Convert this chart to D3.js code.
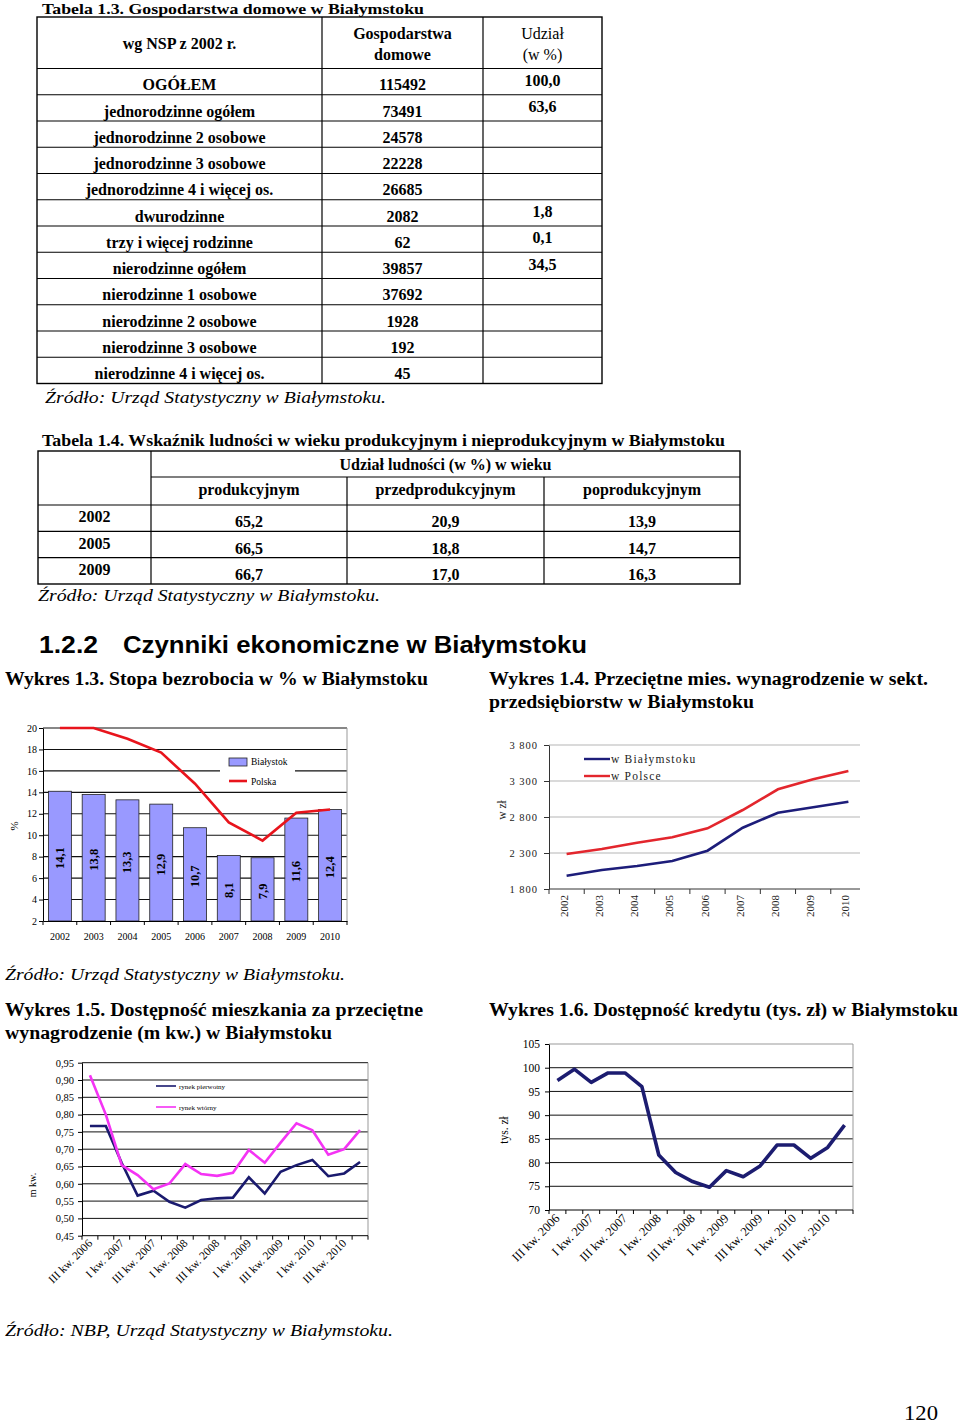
<!DOCTYPE html>
<html><head><meta charset="utf-8">
<script src="https://cdn.jsdelivr.net/npm/d3@7"></script>
<style>body{margin:0;background:#fff}svg{display:block}</style>
</head><body>
<svg id="page" width="960" height="1425"></svg>
<script>
// ---------------- DATA ----------------
const t13Labels = ["OGÓŁEM","jednorodzinne ogółem","jednorodzinne 2 osobowe","jednorodzinne 3 osobowe","jednorodzinne 4 i więcej os.","dwurodzinne","trzy i więcej rodzinne","nierodzinne ogółem","nierodzinne 1 osobowe","nierodzinne 2 osobowe","nierodzinne 3 osobowe","nierodzinne 4 i więcej os."];
const t13Households = [115492,73491,24578,22228,26685,2082,62,39857,37692,1928,192,45];
const t13Share = [100.0,63.6,null,null,null,1.8,0.1,34.5,null,null,null,null];

const t14Years = ["2002","2005","2009"];
const t14Groups = ["produkcyjnym","przedprodukcyjnym","poprodukcyjnym"];
const t14Prod = [65.2,66.5,66.7];
const t14Pre = [20.9,18.8,17.0];
const t14Post = [13.9,14.7,16.3];

const years = ["2002","2003","2004","2005","2006","2007","2008","2009","2010"];
const unempBialystok = [14.1,13.8,13.3,12.9,10.7,8.1,7.9,11.6,12.4];
const unempPolska = [20.0,20.0,19.0,17.7,14.8,11.2,9.5,12.1,12.4];
const unempTicks = [2,4,6,8,10,12,14,16,18,20];

const wageBialystok = [1985,2064,2119,2189,2332,2651,2860,2935,3013];
const wagePolska = [2286,2356,2443,2518,2643,2897,3185,3324,3439];
const wageTicks = [1800,2300,2800,3300,3800];

const quarters = ["III kw. 2006","IV kw. 2006","I kw. 2007","II kw. 2007","III kw. 2007","IV kw. 2007","I kw. 2008","II kw. 2008","III kw. 2008","IV kw. 2008","I kw. 2009","II kw. 2009","III kw. 2009","IV kw. 2009","I kw. 2010","II kw. 2010","III kw. 2010","IV kw. 2010"];
const flatPrimary = [0.767,0.767,0.660,0.566,0.580,0.548,0.531,0.553,0.558,0.560,0.619,0.572,0.635,0.654,0.669,0.622,0.630,0.663];
const flatSecondary = [0.914,0.800,0.654,0.625,0.584,0.601,0.657,0.628,0.623,0.632,0.698,0.661,0.719,0.775,0.755,0.684,0.700,0.755];
const flatTicks = [0.45,0.50,0.55,0.60,0.65,0.70,0.75,0.80,0.85,0.90,0.95];

const credit = [97.3,99.7,96.9,98.9,98.9,96.0,81.6,77.9,76.0,74.8,78.3,77.0,79.3,83.7,83.7,80.9,83.2,87.9];
const creditTicks = [70,75,80,85,90,95,100,105];

// ---------------- HELPERS ----------------
const SERIF = "'Liberation Serif','Times New Roman',serif";
const SANS = "'Liberation Sans',Arial,sans-serif";
const svg = d3.select("#page");
svg.append("rect").attr("width",960).attr("height",1425).attr("fill","#fff");
const comma1 = v => d3.format(".1f")(v).replace(".", ",");
const comma2 = v => d3.format(".2f")(v).replace(".", ",");

function T(g, x, y, s, o = {}) {
  const t = g.append("text").attr("x", x).attr("y", y).text(s)
    .attr("font-family", o.family || SERIF).attr("font-size", o.size || 16)
    .attr("font-weight", o.weight || "normal").attr("font-style", o.style || "normal")
    .attr("text-anchor", o.anchor || "start").attr("fill", o.fill || "#000");
  if (o.len) t.attr("textLength", o.len).attr("lengthAdjust", "spacingAndGlyphs");
  if (o.ls) t.attr("letter-spacing", o.ls);
  return t;
}
function L(g, x1, y1, x2, y2, c = "#000", w = 1) {
  return g.append("line").attr("x1", x1).attr("y1", y1).attr("x2", x2).attr("y2", y2)
    .attr("stroke", c).attr("stroke-width", w);
}

// ---------------- PAGE TEXT ----------------
T(svg, 42, 13.5, "Tabela 1.3. Gospodarstwa domowe w Białymstoku", {weight:"bold", size:15.5, len:382});
T(svg, 42, 446, "Tabela 1.4. Wskaźnik ludności w wieku produkcyjnym i nieprodukcyjnym w Białymstoku", {weight:"bold", size:16, len:683});
T(svg, 45, 403, "Źródło: Urząd Statystyczny w Białymstoku.", {style:"italic", size:17, len:341});
T(svg, 38, 601, "Źródło: Urząd Statystyczny w Białymstoku.", {style:"italic", size:17, len:342});
T(svg, 39, 653, "1.2.2", {family:SANS, weight:"bold", size:23, len:59});
T(svg, 123, 653, "Czynniki ekonomiczne w Białymstoku", {family:SANS, weight:"bold", size:23, len:464});
T(svg, 5, 685, "Wykres 1.3. Stopa bezrobocia w % w Białymstoku", {weight:"bold", size:18, len:423});
T(svg, 489, 685, "Wykres 1.4. Przeciętne mies. wynagrodzenie w sekt.", {weight:"bold", size:18, len:439});
T(svg, 489, 708, "przedsiębiorstw w Białymstoku", {weight:"bold", size:18, len:265});
T(svg, 5, 980, "Źródło: Urząd Statystyczny w Białymstoku.", {style:"italic", size:17, len:340});
T(svg, 5, 1016, "Wykres 1.5. Dostępność mieszkania za przeciętne", {weight:"bold", size:18, len:418});
T(svg, 5, 1039, "wynagrodzenie (m kw.) w Białymstoku", {weight:"bold", size:18, len:327});
T(svg, 489, 1016, "Wykres 1.6. Dostępność kredytu (tys. zł) w Białymstoku", {weight:"bold", size:18, len:469});
T(svg, 5, 1336, "Źródło: NBP, Urząd Statystyczny w Białymstoku.", {style:"italic", size:17, len:388});
T(svg, 904, 1420, "120", {size:22, len:34});

// ---------------- TABLE 1.3 ----------------
{
  const g = svg.append("g");
  const colX = [37, 322, 483, 602];
  const top = 17, headB = 68.5, bottom = 383.5;
  const ry = d3.scaleBand().domain(d3.range(t13Labels.length)).range([headB, bottom]);
  g.append("rect").attr("x", colX[0]).attr("y", top).attr("width", colX[3]-colX[0]).attr("height", bottom-top)
    .attr("fill","none").attr("stroke","#000").attr("stroke-width",1.4);
  [colX[1], colX[2]].forEach(x => L(g, x, top, x, bottom, "#000", 1.2));
  ry.domain().forEach(i => L(g, colX[0], ry(i), colX[3], ry(i), "#000", 1.2));
  const cx = [(colX[0]+colX[1])/2, (colX[1]+colX[2])/2, (colX[2]+colX[3])/2];
  T(g, cx[0], 49, "wg NSP z 2002 r.", {anchor:"middle", weight:"bold"});
  T(g, cx[1], 39, "Gospodarstwa", {anchor:"middle", weight:"bold"});
  T(g, cx[1], 60, "domowe", {anchor:"middle", weight:"bold"});
  T(g, cx[2], 39, "Udział", {anchor:"middle"});
  T(g, cx[2], 60, "(w %)", {anchor:"middle"});
  t13Labels.forEach((lab, i) => {
    const b = ry(i) + ry.bandwidth() - 4.5;
    T(g, cx[0], b, lab, {anchor:"middle", weight:"bold"});
    T(g, cx[1], b, String(t13Households[i]), {anchor:"middle", weight:"bold"});
    if (t13Share[i] !== null) T(g, cx[2], b - 4.5, comma1(t13Share[i]), {anchor:"middle", weight:"bold"});
  });
}

// ---------------- TABLE 1.4 ----------------
{
  const g = svg.append("g");
  const left = 38, c1 = 151, c2 = 347, c3 = 544, right = 740;
  const top = 451, h1 = 477, h2 = 505, bottom = 584;
  const ry = d3.scaleBand().domain(t14Years).range([h2, bottom]);
  g.append("rect").attr("x", left).attr("y", top).attr("width", right-left).attr("height", bottom-top)
    .attr("fill","none").attr("stroke","#000").attr("stroke-width",1.4);
  L(g, c1, top, c1, bottom, "#000", 1.2);
  L(g, c1, h1, right, h1, "#000", 1.2);
  L(g, left, h2, right, h2, "#000", 1.2);
  [c2, c3].forEach(x => L(g, x, h1, x, bottom, "#000", 1.2));
  t14Years.forEach(y => { if (ry(y) > h2) L(g, left, ry(y), right, ry(y), "#000", 1.2); });
  T(g, (c1+right)/2, 470, "Udział ludności (w %) w wieku", {anchor:"middle", weight:"bold"});
  const cxs = [(c1+c2)/2, (c2+c3)/2, (c3+right)/2];
  t14Groups.forEach((s, i) => T(g, cxs[i], 495, s, {anchor:"middle", weight:"bold"}));
  const cols = [t14Prod, t14Pre, t14Post];
  t14Years.forEach((yr, r) => {
    const b = ry(yr) + ry.bandwidth() - 4;
    T(g, (left+c1)/2, b - 5, yr, {anchor:"middle", weight:"bold"});
    cols.forEach((arr, i) => T(g, cxs[i], b, comma1(arr[r]), {anchor:"middle", weight:"bold"}));
  });
}

// ---------------- CHART 1.3 ----------------
{
  const g = svg.append("g");
  const x = d3.scaleBand().domain(years).range([43, 347]);
  const y = d3.scaleLinear().domain([2, 20]).range([921, 728]);
  const bw = x.bandwidth();
  g.selectAll(".grid").data(unempTicks.filter(v => v > 2)).join("line")
    .attr("x1", 43).attr("x2", 347).attr("y1", d => y(d)).attr("y2", d => y(d))
    .attr("stroke", "#111").attr("stroke-width", 1.1);
  L(g, 347, y(20), 347, y(2), "#999", 1);
  g.append("rect").attr("x", 220).attr("y", 755).attr("width", 75).attr("height", 32).attr("fill", "#fff");
  g.selectAll(".bar").data(years).join("rect")
    .attr("x", d => x(d) + bw * 0.16).attr("width", bw * 0.68)
    .attr("y", (d, i) => y(unempBialystok[i])).attr("height", (d, i) => y(2) - y(unempBialystok[i]))
    .attr("fill", "#9999ff").attr("stroke", "#222").attr("stroke-width", 0.8);
  g.selectAll(".blab").data(years).join("text")
    .attr("transform", (d, i) => `translate(${x(d) + bw/2},${(y(unempBialystok[i]) + y(2))/2 + 2}) rotate(-90)`)
    .attr("text-anchor", "middle").attr("dominant-baseline", "central")
    .attr("font-family", SERIF).attr("font-weight", "bold").attr("font-size", 12.5)
    .text((d, i) => comma1(unempBialystok[i]));
  g.append("path").datum(years)
    .attr("d", d3.line().x(d => x(d) + bw/2).y((d, i) => y(unempPolska[i])))
    .attr("fill", "none").attr("stroke", "#e8141c").attr("stroke-width", 2.6);
  const ax = g.append("g").attr("transform", "translate(43,0)")
    .call(d3.axisLeft(y).tickValues(unempTicks).tickSize(4).tickPadding(2).tickSizeOuter(0).tickFormat(d3.format("d")));
  ax.selectAll("text").attr("font-family", SERIF).attr("font-size", 10).attr("fill", "#000");
  ax.selectAll("line,path").attr("stroke", "#000");
  const bx = g.append("g").attr("transform", "translate(0,921)")
    .call(d3.axisBottom(x).tickSize(0).tickPadding(12).tickSizeOuter(0));
  bx.selectAll("text").attr("font-family", SERIF).attr("font-size", 10).attr("fill", "#000");
  bx.select("path").attr("stroke", "#000");
  g.selectAll(".xt").data(years.concat(["end"])).join("line")
    .attr("x1", (d, i) => i < years.length ? x(d) : 347).attr("x2", (d, i) => i < years.length ? x(d) : 347)
    .attr("y1", 921).attr("y2", 925).attr("stroke", "#000");
  T(g, 0, 0, "%", {size:11, anchor:"middle"}).attr("transform", "translate(18,826) rotate(-90)");
  g.append("rect").attr("x", 229).attr("y", 758).attr("width", 18).attr("height", 8)
    .attr("fill", "#9999ff").attr("stroke", "#222").attr("stroke-width", 0.8);
  T(g, 251, 765, "Białystok", {size:9.5});
  L(g, 229, 781, 247, 781, "#e8141c", 2.6);
  T(g, 251, 784.5, "Polska", {size:9.5});
}

// ---------------- CHART 1.4 ----------------
{
  const g = svg.append("g");
  const x = d3.scaleBand().domain(years).range([549, 866]);
  const y = d3.scaleLinear().domain([1800, 3800]).range([889, 745]);
  const bw = x.bandwidth();
  g.selectAll(".grid").data(wageTicks.filter(v => v > 1800)).join("line")
    .attr("x1", 549).attr("x2", 860).attr("y1", d => y(d)).attr("y2", d => y(d))
    .attr("stroke", "#b5b5b5").attr("stroke-width", 1.1);
  const fmt = v => d3.format(",")(v).replace(",", " ");
  const ax = g.append("g").attr("transform", "translate(549,0)")
    .call(d3.axisLeft(y).tickValues(wageTicks).tickSize(5).tickPadding(6).tickSizeOuter(0).tickFormat(fmt));
  ax.selectAll("text").attr("font-family", SERIF).attr("font-size", 10.5).attr("letter-spacing", 1).attr("fill", "#222");
  ax.selectAll("line,path").attr("stroke", "#333");
  L(g, 549, 889, 860, 889, "#333", 1);
  g.selectAll(".xt").data(years).join("line")
    .attr("x1", d => x(d)).attr("x2", d => x(d)).attr("y1", 889).attr("y2", 894).attr("stroke", "#333");
  g.selectAll(".xl").data(years).join("text")
    .attr("transform", d => `translate(${x(d) + bw/2 + 1},${895}) rotate(-90)`)
    .attr("text-anchor", "end").attr("font-family", SERIF).attr("font-size", 11).attr("fill", "#222")
    .text(d => d);
  const line = arr => d3.line().x(d => x(d) + bw/2).y((d, i) => y(arr[i]))(years);
  g.append("path").attr("d", line(wagePolska)).attr("fill", "none").attr("stroke", "#e3262d").attr("stroke-width", 2.6);
  g.append("path").attr("d", line(wageBialystok)).attr("fill", "none").attr("stroke", "#1d1d7a").attr("stroke-width", 2.6);
  T(g, 0, 0, "w zł", {size:11.5, anchor:"middle", fill:"#222"}).attr("transform", "translate(506,810) rotate(-90)");
  L(g, 584, 759, 610, 759, "#1d1d7a", 2.4);
  T(g, 611, 763, "w Białymstoku", {size:11.5, ls:1.2, fill:"#222"});
  L(g, 584, 776, 610, 776, "#e3262d", 2.4);
  T(g, 611, 780, "w Polsce", {size:11.5, ls:1.2, fill:"#222"});
}

// ---------------- CHART 1.5 ----------------
{
  const g = svg.append("g");
  const x = d3.scaleBand().domain(quarters).range([82, 368]);
  const y = d3.scaleLinear().domain([0.45, 0.95]).range([1235.7, 1062.7]);
  const bw = x.bandwidth();
  g.selectAll(".grid").data(flatTicks.filter(v => v > 0.46)).join("line")
    .attr("x1", 82).attr("x2", 368).attr("y1", d => y(d)).attr("y2", d => y(d))
    .attr("stroke", "#111").attr("stroke-width", 1);
  L(g, 368, y(0.95), 368, y(0.45), "#999", 1);
  const ax = g.append("g").attr("transform", "translate(82,0)")
    .call(d3.axisLeft(y).tickValues(flatTicks).tickSize(4).tickPadding(4).tickSizeOuter(0).tickFormat(comma2));
  ax.selectAll("text").attr("font-family", SERIF).attr("font-size", 10.5).attr("fill", "#000");
  ax.selectAll("line,path").attr("stroke", "#000");
  L(g, 82, y(0.45), 368, y(0.45), "#000", 1);
  g.selectAll(".xt").data(quarters.concat(["end"])).join("line")
    .attr("x1", (d, i) => i < quarters.length ? x(d) : 368).attr("x2", (d, i) => i < quarters.length ? x(d) : 368)
    .attr("y1", y(0.45)).attr("y2", y(0.45) + 4).attr("stroke", "#000");
  g.selectAll(".xl").data(quarters.filter((d, i) => i % 2 === 0)).join("text")
    .attr("transform", d => `translate(${x(d) + bw/2 + 3},${1244}) rotate(-45)`)
    .attr("text-anchor", "end").attr("font-family", SERIF).attr("font-size", 11.5).attr("fill", "#000")
    .text(d => d);
  const line = arr => d3.line().x(d => x(d) + bw/2).y((d, i) => y(arr[i]))(quarters);
  g.append("path").attr("d", line(flatPrimary)).attr("fill", "none").attr("stroke", "#1a1a6e").attr("stroke-width", 2.6);
  g.append("path").attr("d", line(flatSecondary)).attr("fill", "none").attr("stroke", "#f433f4").attr("stroke-width", 2.6);
  T(g, 0, 0, "m kw.", {size:10, anchor:"middle"}).attr("transform", "translate(36,1185) rotate(-90)");
  L(g, 156, 1086, 176, 1086, "#1a1a6e", 1.6);
  T(g, 179, 1088.5, "rynek pierwotny", {size:7});
  L(g, 156, 1107, 176, 1107, "#f433f4", 1.6);
  T(g, 179, 1109.5, "rynek wtórny", {size:7});
}

// ---------------- CHART 1.6 ----------------
{
  const g = svg.append("g");
  const x = d3.scaleBand().domain(quarters).range([549, 853]);
  const y = d3.scaleLinear().domain([70, 105]).range([1210, 1044]);
  const bw = x.bandwidth();
  g.selectAll(".grid").data(creditTicks.filter(v => v > 70 && v < 105)).join("line")
    .attr("x1", 549).attr("x2", 853).attr("y1", d => y(d)).attr("y2", d => y(d))
    .attr("stroke", "#111").attr("stroke-width", 1);
  L(g, 549, y(105), 853, y(105), "#999", 1);
  L(g, 853, y(105), 853, y(70), "#999", 1);
  const ax = g.append("g").attr("transform", "translate(549,0)")
    .call(d3.axisLeft(y).tickValues(creditTicks).tickSize(4).tickPadding(5).tickSizeOuter(0).tickFormat(d3.format("d")));
  ax.selectAll("text").attr("font-family", SERIF).attr("font-size", 11.5).attr("fill", "#000");
  ax.selectAll("line,path").attr("stroke", "#000");
  L(g, 549, y(70), 853, y(70), "#000", 1);
  g.selectAll(".xt").data(quarters.concat(["end"])).join("line")
    .attr("x1", (d, i) => i < quarters.length ? x(d) : 853).attr("x2", (d, i) => i < quarters.length ? x(d) : 853)
    .attr("y1", y(70)).attr("y2", y(70) + 4).attr("stroke", "#000");
  g.selectAll(".xl").data(quarters.filter((d, i) => i % 2 === 0)).join("text")
    .attr("transform", d => `translate(${x(d) + bw/2 + 3},${1219}) rotate(-45)`)
    .attr("text-anchor", "end").attr("font-family", SERIF).attr("font-size", 12.5).attr("fill", "#000")
    .text(d => d);
  g.append("path").datum(quarters)
    .attr("d", d3.line().x(d => x(d) + bw/2).y((d, i) => y(credit[i])))
    .attr("fill", "none").attr("stroke", "#1c1c70").attr("stroke-width", 3.6).attr("stroke-linejoin", "round");
  T(g, 0, 0, "tys. zł", {size:11.5, anchor:"middle"}).attr("transform", "translate(508,1130) rotate(-90)");
}
</script>
</body></html>
